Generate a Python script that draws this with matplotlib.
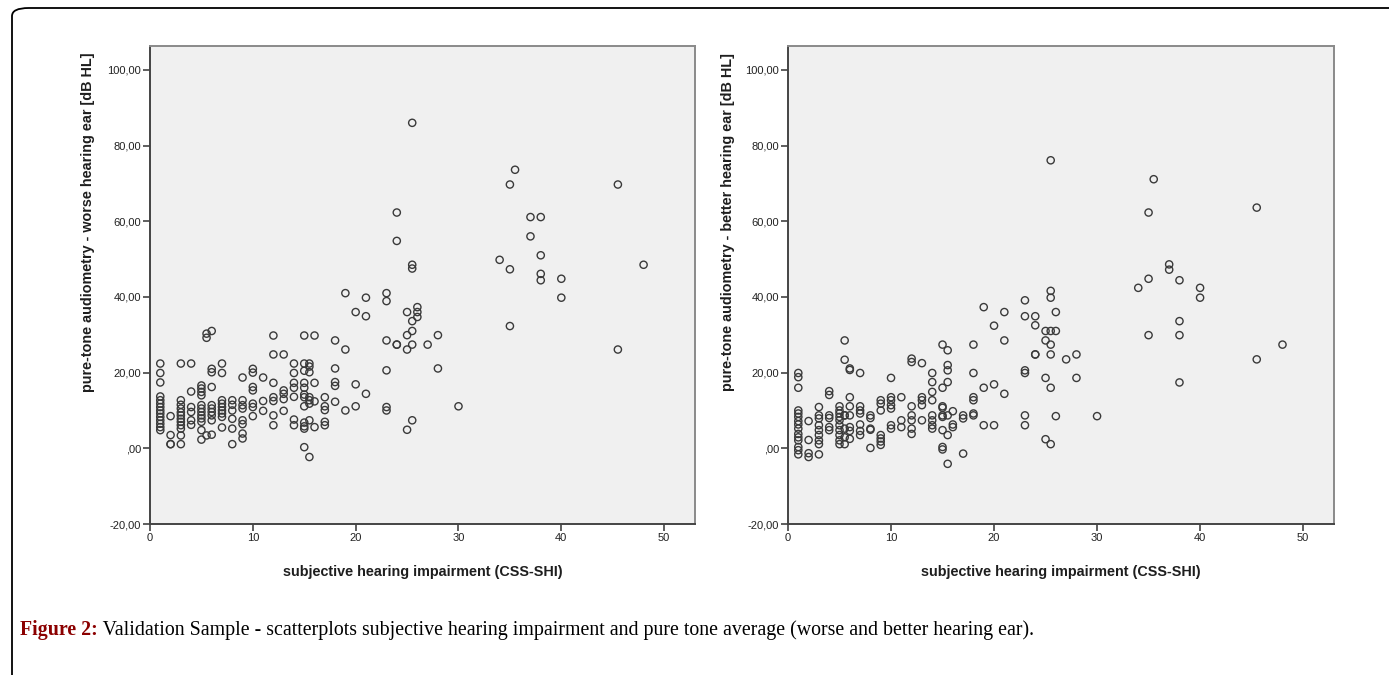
import numpy as np
import matplotlib
matplotlib.use("Agg")
import matplotlib.pyplot as plt
from matplotlib.patches import FancyBboxPatch
from matplotlib.ticker import FuncFormatter

# ---------------- data ----------------
worse_levels = [1, 2, 3, 4, 5, 5.5, 6, 7, 8, 9, 10, 11, 12, 13, 14, 15, 15.5, 16, 17, 18,
                19, 20, 21, 23, 24, 25, 25.5, 26, 27, 28, 30, 34, 35, 35.5, 37, 38, 40, 45.5, 48]
worse_values = [
    [22.4, 19.9, 17.4, 13.7, 12.7, 11.8, 10.9, 10.0, 9.2, 8.3, 7.4, 6.5, 5.6, 4.8],
    [8.5, 3.5, 1.1, 1.1],
    [22.4, 12.7, 11.5, 10.5, 9.5, 8.7, 7.8, 7.0, 6.1, 5.2, 3.4, 1.1],
    [22.4, 15.0, 10.9, 9.6, 7.4, 6.2],
    [16.6, 15.8, 14.9, 14.0, 11.4, 10.5, 9.6, 8.7, 7.9, 7.0, 4.8, 2.3],
    [30.3, 29.2, 3.4],
    [31.0, 21.0, 20.1, 16.2, 11.4, 10.5, 9.6, 8.7, 7.4, 3.6],
    [22.4, 19.9, 12.7, 11.8, 10.9, 10.0, 9.2, 8.3, 5.5],
    [12.7, 11.5, 10.0, 7.8, 5.2, 1.1],
    [18.7, 12.7, 11.4, 10.5, 7.4, 6.4, 3.9, 2.6],
    [21.0, 20.0, 16.2, 15.3, 11.8, 10.9, 8.5],
    [18.7, 12.5, 9.9],
    [29.8, 24.8, 17.3, 13.5, 12.5, 8.7, 6.1],
    [24.8, 15.3, 14.4, 13.0, 9.9],
    [22.4, 19.9, 17.3, 16.0, 13.6, 7.6, 6.1],
    [29.8, 22.4, 20.5, 17.3, 16.0, 14.2, 13.5, 11.1, 6.8, 5.8, 5.2, 0.3],
    [22.4, 21.6, 20.1, 13.5, 12.7, 11.8, 7.4, -2.3],
    [29.8, 17.3, 12.4, 5.6],
    [13.5, 11.1, 10.1, 7.0, 6.1],
    [28.5, 21.1, 17.5, 16.5, 12.3],
    [41.0, 26.1, 10.0],
    [36.0, 16.9, 11.1],
    [39.8, 34.9, 14.4],
    [41.0, 38.9, 28.5, 20.6, 10.9, 10.0],
    [62.3, 54.8, 27.4, 27.4],
    [36.0, 29.9, 26.1, 4.9],
    [86.0, 48.5, 47.5, 33.6, 31.0, 27.4, 7.4],
    [37.3, 36.0, 34.7],
    [27.4],
    [29.9, 21.1],
    [11.1],
    [49.8],
    [69.7, 47.3, 32.3],
    [73.6],
    [61.1, 56.0],
    [61.1, 51.0, 46.1, 44.4],
    [44.8, 39.8],
    [69.7, 26.1],
    [48.5],
]

better_levels = [1, 2, 3, 4, 5, 5.5, 6, 7, 8, 9, 10, 11, 12, 13, 14, 15, 15.5, 16, 17, 18,
                 19, 20, 21, 23, 24, 25, 25.5, 26, 27, 28, 30, 34, 35, 35.5, 37, 38, 40, 45.5, 48]
better_values = [
    [19.9, 18.8, 16.0, 10.0, 9.2, 8.3, 7.2, 6.3, 5.2, 3.8, 2.9, 2.1, 0.35, -0.5, -1.6],
    [7.2, 2.2, -1.3, -2.3],
    [10.9, 8.7, 7.9, 6.1, 4.8, 3.5, 2.1, 1.1, -1.6],
    [15.1, 14.1, 8.7, 8.0, 5.6, 4.8],
    [11.1, 10.0, 9.2, 8.3, 7.4, 6.1, 4.8, 3.5, 2.1, 1.1],
    [28.5, 23.4, 8.7, 8.7, 5.2, 2.9, 1.1],
    [21.1, 20.7, 13.5, 11.1, 8.7, 5.6, 4.6, 2.5],
    [19.9, 11.1, 10.0, 9.2, 6.3, 4.6, 3.5],
    [8.7, 8.0, 5.2, 4.9, 0.1],
    [12.7, 11.8, 10.0, 3.5, 2.6, 1.8, 0.9],
    [18.6, 13.5, 12.7, 11.4, 10.5, 6.1, 5.2],
    [13.5, 7.4, 5.6],
    [23.7, 22.8, 11.1, 8.7, 7.4, 5.2, 3.8],
    [22.5, 13.5, 12.7, 11.4, 7.4],
    [19.9, 17.5, 14.9, 12.7, 8.7, 7.4, 6.1, 5.2],
    [27.4, 16.0, 11.1, 10.7, 8.7, 8.3, 4.8, 0.35, -0.3],
    [25.9, 22.0, 20.6, 17.5, 8.7, 3.5, -4.1],
    [9.8, 6.3, 5.6],
    [8.7, 7.9, -1.4],
    [27.4, 19.9, 13.5, 12.7, 9.2, 8.7],
    [37.3, 16.0, 6.1],
    [32.4, 16.9, 6.1],
    [36.0, 28.5, 14.4],
    [39.1, 34.9, 20.6, 19.9, 8.7, 6.1],
    [34.9, 32.5, 24.8, 24.8],
    [31.0, 28.5, 18.6, 2.4],
    [76.1, 41.6, 39.8, 31.0, 27.4, 24.8, 16.0, 1.1],
    [36.0, 31.0, 8.5],
    [23.5],
    [24.8, 18.6],
    [8.5],
    [42.4],
    [62.3, 44.8, 29.9],
    [71.1],
    [48.6, 47.2],
    [44.4, 33.6, 29.9, 17.4],
    [42.4, 39.8],
    [63.6, 23.5],
    [27.4],
]

x_ticks = [0, 10, 20, 30, 40, 50]
y_ticks = [-20, 0, 20, 40, 60, 80, 100]
x_label = "subjective hearing impairment (CSS-SHI)"
y_labels = ["pure-tone audiometry - worse hearing ear [dB HL]",
            "pure-tone audiometry - better hearing ear [dB HL]"]
caption_bold = "Figure 2:"
caption_text = " Validation Sample - scatterplots subjective hearing impairment and pure tone average (worse and better hearing ear)."


def flatten(levels, values):
    xs, ys = [], []
    for lv, vals in zip(levels, values):
        for v in vals:
            xs.append(lv)
            ys.append(v)
    return np.array(xs), np.array(ys)


W, H = 1389, 675
fig = plt.figure(figsize=(W / 100, H / 100), dpi=100)
fig.patch.set_facecolor("white")

# outer rounded frame
frame = FancyBboxPatch((12 / W, 1 - 690 / H), 1400 / W, 682 / H,
                       boxstyle="round,pad=0,rounding_size=0.012",
                       transform=fig.transFigure, fill=False,
                       edgecolor="black", linewidth=1.3, clip_on=False)
fig.patches.append(frame)


def yfmt(v, pos):
    if abs(v) < 1e-9:
        return ",00"
    return f"{v:.2f}".replace(".", ",")


panels = [
    (150, 695, worse_levels, worse_values, y_labels[0], -0.101),
    (788, 1334, better_levels, better_values, y_labels[1], -0.097),
]
for left, right, lv, vals, ylab, ylx in panels:
    ax = fig.add_axes([left / W, 1 - 524 / H, (right - left) / W, (524 - 46) / H])
    ax.set_facecolor("#f0f0f0")
    xs, ys = flatten(lv, vals)
    ax.scatter(xs, ys, s=27, facecolors="none", edgecolors="#3a3a3a",
               linewidths=1.0, zorder=3, clip_on=False)
    ax.set_xlim(0, 53)
    ax.set_ylim(-20, 106.3)
    ax.set_xticks(x_ticks)
    ax.set_yticks(y_ticks)
    ax.yaxis.set_major_formatter(FuncFormatter(yfmt))
    ax.tick_params(direction="out", length=5, width=1.1, color="#333333",
                   labelcolor="#222222", pad=1.5)
    for lab in ax.get_xticklabels() + ax.get_yticklabels():
        lab.set_fontfamily("Liberation Sans")
        lab.set_fontsize(8)
    for side in ["left", "bottom"]:
        ax.spines[side].set_color("#444444")
        ax.spines[side].set_linewidth(1.4)
    for side in ["top", "right"]:
        ax.spines[side].set_color("#8a8a8a")
        ax.spines[side].set_linewidth(1.4)
    ax.set_xlabel(x_label, fontfamily="Liberation Sans", fontweight="bold",
                  fontsize=10.4, color="#1e1e1e")
    ax.xaxis.set_label_coords(0.5, -0.085)
    ax.set_ylabel(ylab, fontfamily="Liberation Sans", fontweight="bold",
                  fontsize=10.4, color="#1e1e1e")
    ax.yaxis.set_label_coords(ylx, 0.632)

fig.text(20 / W, 1 - 630 / H, caption_bold, fontfamily="Liberation Serif",
         fontweight="bold", fontsize=14.3, va="center", ha="left", color="#8b0000")
fig.canvas.draw()
r = fig.texts[0].get_window_extent(renderer=fig.canvas.get_renderer())
fig.text(r.x1 / W, 1 - 630 / H, caption_text, fontfamily="Liberation Serif",
         fontsize=14.3, va="center", ha="left", color="black")

fig.savefig("out.png", dpi=100)
